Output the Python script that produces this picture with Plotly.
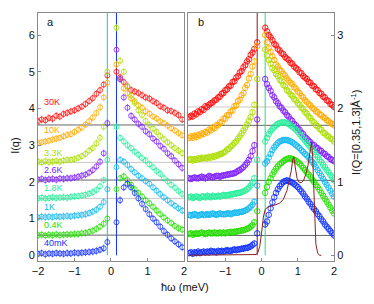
import plotly.graph_objects as go

# ---------------- data ----------------
LABELS = ["30K", "10K", "3.3K", "2.6K", "1.8K", "1K", "0.4K", "40mK"]
COLORS = ["#ff1010", "#ffaa00", "#aadd00", "#8020ff", "#22ee99", "#11b8ee", "#22dd00", "#1030ff"]

# panel a energy grid (meV)
XA_LEFT = [round(-2.0 + 0.1 * i, 2) for i in range(19)]          # -2.0 .. -0.2
XA_CENTER = [-0.1]
XA_RIGHT = [round(0.15 + 0.1 * i, 2) for i in range(19)]         # 0.15 .. 1.95

A_30K = [3.65, 3.7, 3.68, 3.74, 3.72, 3.8, 3.78, 3.85, 3.88, 3.92, 3.95, 4.0, 4.05, 4.12, 4.2, 4.28, 4.4, 4.5, 4.65,
         4.9,
         5.0, 4.85, 4.72, 4.6, 4.5, 4.46, 4.42, 4.36, 4.3, 4.27, 4.2, 4.15, 4.06, 4.02, 3.95, 3.93, 3.88, 3.82, 3.7]
A_10K = [3.05, 3.08, 3.1, 3.12, 3.15, 3.18, 3.2, 3.24, 3.28, 3.3, 3.36, 3.42, 3.48, 3.56, 3.65, 3.75, 3.88, 4.03, 4.3,
         4.7,
         5.2, 4.8, 4.55, 4.42, 4.28, 4.2, 4.08, 4.02, 3.92, 3.86, 3.78, 3.73, 3.65, 3.6, 3.53, 3.46, 3.4, 3.33, 3.27]
A_3K3 = [2.55, 2.53, 2.56, 2.54, 2.55, 2.57, 2.55, 2.58, 2.6, 2.6, 2.62, 2.66, 2.7, 2.76, 2.85, 2.92, 3.05, 3.2, 3.5,
         5.0,
         6.2, 5.3, 5.0, 4.6, 4.35, 4.15, 3.95, 3.82, 3.66, 3.55, 3.45, 3.36, 3.25, 3.16, 3.08, 3.0, 2.92, 2.85, 2.78]
A_2K6 = [2.06, 2.08, 2.05, 2.07, 2.08, 2.06, 2.09, 2.08, 2.1, 2.1, 2.12, 2.14, 2.17, 2.2, 2.25, 2.32, 2.42, 2.55, 2.78,
         3.6,
         5.6, 4.8, 4.3, 4.02, 3.8, 3.7, 3.58, 3.5, 3.38, 3.3, 3.18, 3.1, 2.98, 2.9, 2.78, 2.7, 2.58, 2.48, 2.38]
A_1K8 = [1.55, 1.57, 1.55, 1.56, 1.58, 1.56, 1.57, 1.58, 1.57, 1.59, 1.6, 1.61, 1.63, 1.65, 1.68, 1.72, 1.78, 1.88, 2.05,
         2.6,
         3.5, 3.2, 3.1, 3.0, 2.92, 2.82, 2.74, 2.65, 2.58, 2.48, 2.4, 2.3, 2.22, 2.1, 2.02, 1.92, 1.84, 1.75, 1.67]
A_1K = [1.03, 1.05, 1.04, 1.05, 1.04, 1.06, 1.05, 1.06, 1.07, 1.06, 1.08, 1.09, 1.1, 1.12, 1.15, 1.19, 1.24, 1.32, 1.45,
        1.8,
        2.4, 2.6, 2.55, 2.46, 2.35, 2.26, 2.17, 2.1, 2.02, 1.95, 1.85, 1.76, 1.67, 1.58, 1.5, 1.42, 1.35, 1.28, 1.22]
A_0K4 = [0.55, 0.56, 0.54, 0.56, 0.55, 0.57, 0.55, 0.56, 0.57, 0.57, 0.58, 0.58, 0.6, 0.61, 0.64, 0.67, 0.72, 0.78, 0.86,
         1.0,
         1.8, 2.1, 2.15, 2.05, 1.92, 1.8, 1.7, 1.6, 1.5, 1.42, 1.32, 1.22, 1.12, 1.03, 0.95, 0.88, 0.8, 0.74, 0.7]
A_40MK = [0.04, 0.06, 0.03, 0.05, 0.04, 0.06, 0.05, 0.04, 0.06, 0.05, 0.07, 0.06, 0.07, 0.08, 0.09, 0.1, 0.12, 0.15, 0.19,
          0.36,
          0.9, 1.5, 1.85, 1.95, 1.85, 1.7, 1.55, 1.4, 1.26, 1.12, 1.0, 0.9, 0.78, 0.66, 0.56, 0.46, 0.38, 0.3, 0.22]
ERR_A = 0.1

# elastic line points in panel a (off scale)
PEAK_A_X = [-0.1, 0.15]
PEAK_A_Y = [9.0, 9.0]
PEAK_A_COL = ["#11c8dd", "#1030ff"]

# panel b energy grid
XB_LEFT = [round(-2.0 + 0.05 * i, 2) for i in range(37)]         # -2.0 .. -0.2
XB_CENTER = [-0.12, 0.1]
XB_RIGHT = [round(0.15 + 0.05 * i, 2) for i in range(38)]        # 0.15 .. 2.0

B_30K_L = [1.88, 1.9, 1.89, 1.93, 1.92, 1.96, 1.95, 1.99, 1.98, 2.03, 2.02, 2.05, 2.07, 2.08, 2.11, 2.12, 2.15, 2.16,
           2.2, 2.21, 2.25, 2.26, 2.3, 2.31, 2.36, 2.37, 2.42, 2.44, 2.49, 2.51, 2.56, 2.59, 2.64, 2.67, 2.73, 2.76, 2.81]
B_30K_R = [3.05, 3.0, 2.97, 2.93, 2.88, 2.86, 2.81, 2.79, 2.75, 2.74, 2.7, 2.68, 2.66, 2.62, 2.61, 2.57, 2.55, 2.53,
           2.49, 2.48, 2.44, 2.42, 2.4, 2.36, 2.35, 2.31, 2.3, 2.26, 2.25, 2.21, 2.2, 2.16, 2.15, 2.11, 2.1, 2.06, 2.05, 2.02]
B_10K_L = [1.6, 1.62, 1.6, 1.63, 1.61, 1.64, 1.63, 1.66, 1.65, 1.68, 1.67, 1.71, 1.7, 1.74, 1.73, 1.77, 1.77, 1.81,
           1.81, 1.86, 1.86, 1.91, 1.91, 1.96, 1.97, 2.03, 2.04, 2.1, 2.12, 2.18, 2.21, 2.28, 2.32, 2.41, 2.47, 2.57, 2.64]
B_10K_R = [2.9, 2.82, 2.77, 2.71, 2.66, 2.6, 2.57, 2.53, 2.51, 2.47, 2.45, 2.41, 2.38, 2.35, 2.33, 2.29, 2.27, 2.23,
           2.21, 2.17, 2.15, 2.11, 2.09, 2.06, 2.04, 2.01, 1.99, 1.96, 1.95, 1.92, 1.91, 1.88, 1.87, 1.84, 1.83, 1.8, 1.79, 1.77]
B_3K3_L = [1.3, 1.31, 1.29, 1.31, 1.3, 1.32, 1.31, 1.33, 1.32, 1.33, 1.32, 1.34, 1.33, 1.35, 1.34, 1.36, 1.36, 1.38,
           1.38, 1.4, 1.41, 1.44, 1.45, 1.48, 1.5, 1.53, 1.55, 1.59, 1.62, 1.66, 1.7, 1.74, 1.78, 1.83, 1.88, 1.95, 2.05]
B_3K3_R = [2.72, 2.66, 2.61, 2.55, 2.52, 2.47, 2.44, 2.39, 2.37, 2.32, 2.3, 2.25, 2.23, 2.19, 2.17, 2.13, 2.11, 2.07,
           2.05, 2.01, 1.99, 1.95, 1.93, 1.89, 1.87, 1.83, 1.81, 1.77, 1.76, 1.72, 1.71, 1.67, 1.66, 1.63, 1.62, 1.59, 1.58, 1.55]
B_2K6_L = [1.05, 1.04, 1.05, 1.06, 1.05, 1.05, 1.06, 1.07, 1.06, 1.05, 1.06, 1.08, 1.07, 1.06, 1.07, 1.08, 1.08, 1.07,
           1.08, 1.09, 1.09, 1.1, 1.1, 1.11, 1.11, 1.12, 1.13, 1.15, 1.16, 1.18, 1.2, 1.23, 1.26, 1.3, 1.35, 1.42, 1.5]
B_2K6_R = [2.33, 2.28, 2.24, 2.18, 2.15, 2.1, 2.07, 2.03, 2.01, 1.97, 1.95, 1.91, 1.89, 1.85, 1.83, 1.79, 1.77, 1.73,
           1.71, 1.67, 1.65, 1.61, 1.59, 1.56, 1.54, 1.51, 1.5, 1.47, 1.46, 1.43, 1.42, 1.39, 1.38, 1.35, 1.34, 1.31, 1.3, 1.28]
B_1K8_L = [0.79, 0.8, 0.78, 0.79, 0.8, 0.79, 0.78, 0.8, 0.8, 0.79, 0.81, 0.8, 0.79, 0.81, 0.8, 0.8, 0.81, 0.8, 0.81,
           0.82, 0.81, 0.82, 0.82, 0.83, 0.83, 0.84, 0.84, 0.85, 0.85, 0.86, 0.87, 0.88, 0.9, 0.92, 0.95, 0.99, 1.05]
B_1K8_R = [1.6, 1.65, 1.69, 1.72, 1.75, 1.77, 1.79, 1.8, 1.81, 1.81, 1.81, 1.8, 1.79, 1.77, 1.75, 1.73, 1.71, 1.68,
           1.65, 1.62, 1.59, 1.56, 1.53, 1.5, 1.47, 1.44, 1.41, 1.37, 1.34, 1.3, 1.27, 1.23, 1.2, 1.16, 1.13, 1.09, 1.06, 1.02]
B_1K_L = [0.55, 0.54, 0.55, 0.56, 0.55, 0.54, 0.55, 0.56, 0.55, 0.55, 0.56, 0.55, 0.56, 0.57, 0.56, 0.55, 0.56, 0.57,
          0.56, 0.56, 0.56, 0.57, 0.57, 0.56, 0.57, 0.58, 0.58, 0.58, 0.59, 0.59, 0.6, 0.61, 0.62, 0.64, 0.66, 0.69, 0.73]
B_1K_R = [1.28, 1.33, 1.38, 1.43, 1.47, 1.5, 1.53, 1.55, 1.56, 1.57, 1.57, 1.57, 1.56, 1.55, 1.54, 1.52, 1.5, 1.48,
          1.46, 1.43, 1.41, 1.38, 1.36, 1.33, 1.3, 1.27, 1.24, 1.2, 1.16, 1.12, 1.08, 1.04, 1.0, 0.96, 0.92, 0.88, 0.84, 0.8]
B_0K4_L = [0.29, 0.3, 0.28, 0.29, 0.3, 0.29, 0.3, 0.31, 0.3, 0.29, 0.3, 0.31, 0.3, 0.3, 0.31, 0.3, 0.3, 0.31, 0.3,
           0.31, 0.3, 0.31, 0.31, 0.32, 0.31, 0.32, 0.32, 0.33, 0.33, 0.34, 0.34, 0.35, 0.36, 0.37, 0.39, 0.41, 0.45]
B_0K4_R = [0.93, 1.0, 1.05, 1.1, 1.14, 1.18, 1.21, 1.24, 1.26, 1.28, 1.3, 1.31, 1.32, 1.32, 1.31, 1.3, 1.29, 1.27,
           1.25, 1.22, 1.19, 1.16, 1.13, 1.1, 1.07, 1.03, 1.0, 0.96, 0.93, 0.89, 0.85, 0.81, 0.77, 0.73, 0.69, 0.65, 0.61, 0.57]
B_40MK_L = [0.03, 0.04, 0.02, 0.04, 0.03, 0.05, 0.03, 0.04, 0.05, 0.04, 0.05, 0.04, 0.06, 0.05, 0.05, 0.04, 0.06, 0.05,
            0.06, 0.05, 0.06, 0.07, 0.06, 0.06, 0.07, 0.08, 0.07, 0.08, 0.08, 0.09, 0.09, 0.1, 0.1, 0.11, 0.12, 0.14, 0.16]
B_40MK_R = [0.46, 0.55, 0.64, 0.72, 0.79, 0.85, 0.9, 0.94, 0.97, 1.0, 1.01, 1.02, 1.01, 1.0, 0.99, 0.97, 0.95, 0.93,
            0.9, 0.87, 0.84, 0.8, 0.77, 0.73, 0.7, 0.66, 0.63, 0.6, 0.56, 0.53, 0.49, 0.46, 0.42, 0.39, 0.36, 0.33, 0.3, 0.27]
# values of each curve at the two points next to the elastic line (x = -0.12, 0.1)
BC_NEG = [2.9, 2.85, 2.4, 1.85, 1.3, 0.95, 0.6, 0.3]
BC_POS = [3.1, 3.0, 2.8, 2.4, 1.55, 1.25, 0.85, 0.42]
ERR_B = 0.045

PEAK_B_X = [-0.12, 0.1]
PEAK_B_Y = [5.0, 5.0]
PEAK_B_COL = ["#8b1a1a", "#22dd88"]

# model curve (panel b)
MODEL_X = [-2.0, -0.2, -0.15, -0.1, -0.05, 0.0, 0.05, 0.1, 0.15, 0.2, 0.3, 0.4, 0.5, 0.6, 0.7, 0.76, 0.82, 0.86,
           0.89, 0.93, 0.98, 1.04, 1.1, 1.16, 1.22, 1.28, 1.32, 1.36, 1.38, 1.41, 1.44, 1.47, 1.5, 1.55, 1.6, 1.65]
MODEL_Y = [0, 0, 0.01, 0.04, 0.12, 0.3, 0.52, 0.62, 0.65, 0.66, 0.67, 0.69, 0.71, 0.76, 0.88, 1.0, 1.15, 1.3,
           1.34, 1.2, 1.05, 0.99, 0.99, 1.02, 1.1, 1.22, 1.35, 1.5, 1.54, 1.35, 0.85, 0.4, 0.15, 0.03, 0.0, 0.0]

# temperature label positions (panel a units)
LABEL_Y = [4.17, 3.4, 2.8, 2.32, 1.83, 1.31, 0.82, 0.33]

# reference lines
DARK_A = [0.55, 2.05, 3.55]
LIGHT_A = [1.55, 2.53]
DARK_B = [0.27, 1.02, 1.77]
LIGHT_B = [0.77, 1.27, 2.02]

SERIES_A = [A_30K, A_10K, A_3K3, A_2K6, A_1K8, A_1K, A_0K4, A_40MK]
SERIES_B_L = [B_30K_L, B_10K_L, B_3K3_L, B_2K6_L, B_1K8_L, B_1K_L, B_0K4_L, B_40MK_L]
SERIES_B_R = [B_30K_R, B_10K_R, B_3K3_R, B_2K6_R, B_1K8_R, B_1K_R, B_0K4_R, B_40MK_R]

XA = XA_LEFT + XA_CENTER + XA_RIGHT
XB = XB_LEFT + XB_CENTER + XB_RIGHT

# ---------------- figure ----------------
fig = go.Figure()

FONT = "Liberation Sans, Arial, sans-serif"

shapes = []
for yv in LIGHT_A:
    shapes.append(dict(type="line", xref="x", yref="y", x0=-2, x1=2, y0=yv, y1=yv,
                       line=dict(color="#c8c8c8", width=1), layer="below"))
for yv in DARK_A:
    shapes.append(dict(type="line", xref="x", yref="y", x0=-2, x1=2, y0=yv, y1=yv,
                       line=dict(color="#666666", width=1), layer="below"))
for yv in LIGHT_B:
    shapes.append(dict(type="line", xref="x2", yref="y2", x0=-2.03, x1=2.0, y0=yv, y1=yv,
                       line=dict(color="#c8c8c8", width=1), layer="below"))
for yv in DARK_B:
    shapes.append(dict(type="line", xref="x2", yref="y2", x0=-2.03, x1=2.0, y0=yv, y1=yv,
                       line=dict(color="#666666", width=1), layer="below"))

# elastic peaks (off scale, long error bars)
for xv, yv, c in zip(PEAK_A_X, PEAK_A_Y, PEAK_A_COL):
    fig.add_trace(go.Scatter(x=[xv], y=[yv], mode="markers", xaxis="x", yaxis="y",
                             marker=dict(symbol="circle-open", size=5, color=c, line=dict(width=0.8)),
                             error_y=dict(type="constant", value=yv, color=c, thickness=1, width=0),
                             showlegend=False, hoverinfo="skip"))
for xv, yv, c in zip(PEAK_B_X, PEAK_B_Y, PEAK_B_COL):
    fig.add_trace(go.Scatter(x=[xv], y=[yv], mode="markers", xaxis="x2", yaxis="y2",
                             marker=dict(symbol="circle-open", size=5, color=c, line=dict(width=0.8)),
                             error_y=dict(type="constant", value=yv, color=c, thickness=1, width=0),
                             showlegend=False, hoverinfo="skip"))

for i, (lab, col) in enumerate(zip(LABELS, COLORS)):
    ya = SERIES_A[i]
    yb = SERIES_B_L[i] + [BC_NEG[i], BC_POS[i]] + SERIES_B_R[i]
    fig.add_trace(go.Scatter(x=XA, y=ya, mode="markers", xaxis="x", yaxis="y", name=lab,
                             marker=dict(symbol="circle-open", size=5, color=col, line=dict(width=0.8)),
                             error_y=dict(type="constant", value=ERR_A, color=col, thickness=0.7, width=0),
                             showlegend=False))
    fig.add_trace(go.Scatter(x=XB, y=yb, mode="markers", xaxis="x2", yaxis="y2", name=lab,
                             marker=dict(symbol="circle-open", size=5.5, color=col, line=dict(width=0.9)),
                             error_y=dict(type="constant", value=ERR_B, color=col, thickness=0.7, width=0),
                             showlegend=False))

fig.add_trace(go.Scatter(x=MODEL_X, y=MODEL_Y, mode="lines", xaxis="x2", yaxis="y2",
                         line=dict(color="#8b2020", width=1), showlegend=False))

annotations = []
for lab, col, yv in zip(LABELS, COLORS, LABEL_Y):
    annotations.append(dict(x=-1.9, y=yv, xref="x", yref="y", text=lab, showarrow=False,
                            xanchor="left", yanchor="middle", font=dict(family=FONT, size=9, color=col)))
annotations.append(dict(x=-1.82, y=6.35, xref="x", yref="y", text="a", showarrow=False,
                        xanchor="left", yanchor="middle", font=dict(family=FONT, size=11, color="#111")))
annotations.append(dict(x=-1.8, y=3.18, xref="x2", yref="y2", text="b", showarrow=False,
                        xanchor="left", yanchor="middle", font=dict(family=FONT, size=11, color="#111")))
annotations.append(dict(x=-0.078, y=0.468, xref="paper", yref="paper", text="I(q)", showarrow=False,
                        xanchor="center", yanchor="middle",
                        textangle=-90, font=dict(family=FONT, size=11, color="#111")))
annotations.append(dict(x=0.497, y=-0.105, xref="paper", yref="paper", text="ħω (meV)", showarrow=False,
                        xanchor="center", yanchor="middle",
                        font=dict(family=FONT, size=11, color="#111")))
annotations.append(dict(x=1.074, y=0.52, xref="paper", yref="paper",
                        text="I(Q=[0.35,1.3]Å<sup>-1</sup>)", showarrow=False,
                        xanchor="center", yanchor="middle",
                        textangle=-90, font=dict(family=FONT, size=11, color="#111")))

axis_common = dict(showline=True, mirror=True, linecolor="#8a8a8a", linewidth=1, automargin=False,
                   ticks="inside", ticklen=3, tickcolor="#8a8a8a", showgrid=False, zeroline=False,
                   tickfont=dict(family=FONT, size=11, color="#111"))

# the page body adds an 8 px margin, so the figure is 8 px smaller than the window on each axis
fig.update_layout(
    width=366, height=296,
    margin=dict(l=30, r=40, t=5, b=43),
    paper_bgcolor="white", plot_bgcolor="white",
    xaxis=dict(domain=[0, 0.4932], range=[-2, 2], tickvals=[-2, -1, 0, 1, 2], anchor="y", **axis_common),
    yaxis=dict(domain=[0, 1], range=[-0.155, 6.6], tickvals=[0, 1, 2, 3, 4, 5, 6], anchor="x", **axis_common),
    xaxis2=dict(domain=[0.5068, 1], range=[-2.03, 2.0], tickvals=[-1, 0, 1, 2], anchor="y2", **axis_common),
    yaxis2=dict(domain=[0, 1], range=[-0.078, 3.3], tickvals=[0, 1, 2, 3], anchor="x2", side="right",
                **axis_common),
    shapes=shapes,
    annotations=annotations,
)

fig.write_html("out.html")
